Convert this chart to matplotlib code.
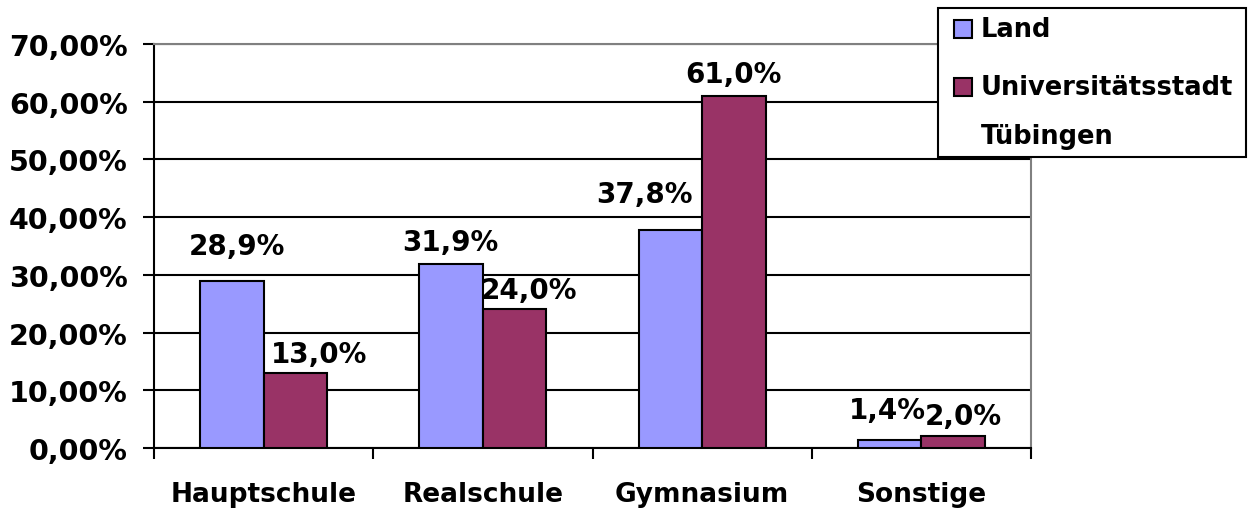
import matplotlib
matplotlib.use("Agg")
from matplotlib import pyplot as plt
from matplotlib.patches import Rectangle
import numpy as np

# Schulart nach der Grundschule: Land vs. Tübingen (Anteile in %)
categories = ["Hauptschule", "Realschule", "Gymnasium", "Sonstige"]
series_names = ["Land", "Universitätsstadt\nTübingen"]
land = [28.9, 31.9, 37.8, 1.4]
tuebingen = [13.0, 24.0, 61.0, 2.0]
y_ticks = [0, 10, 20, 30, 40, 50, 60, 70]

colors = ["#9999FF", "#993366"]

# label offsets (pixels) relative to bar top centre, like the hand-placed Excel labels
land_offsets = [(5, 35), (-1, 22), (-26, 36), (-2, 30)]
tue_offsets = [(24, 19), (14, 19), (0, 22), (10, 20)]

plt.rcParams["font.family"] = "DejaVu Sans"
plt.rcParams["font.weight"] = "bold"

fig = plt.figure(figsize=(12.51, 5.10), dpi=100)
ax = fig.add_axes([154 / 1251, 1 - 449 / 510, 877 / 1251, 404 / 510])

x = np.arange(len(categories))
w = 0.29
b1 = ax.bar(x - w / 2, land, w, color=colors[0], edgecolor="black", linewidth=1.5, zorder=3)
b2 = ax.bar(x + w / 2, tuebingen, w, color=colors[1], edgecolor="black", linewidth=1.5, zorder=3)

def fmt(v):
    return f"{v:.1f}%".replace(".", ",")

for bars, vals, offs in [(b1, land, land_offsets), (b2, tuebingen, tue_offsets)]:
    for bar, v, (dx, dy) in zip(bars, vals, offs):
        ax.annotate(fmt(v), (bar.get_x() + bar.get_width() / 2, v),
                    xytext=(dx * 0.72, dy * 0.72), textcoords="offset points",
                    ha="center", va="center", fontsize=20, fontweight="bold")

ax.set_xlim(-0.5, len(categories) - 0.5)
ax.set_ylim(0, 70)
ax.set_yticks(y_ticks)
ax.set_yticklabels([f"{t:.2f}%".replace(".", ",") for t in y_ticks])
ax.yaxis.grid(True, color="black", linewidth=1.5, zorder=0)
ax.set_axisbelow(True)

ax.set_xticks(x)
ax.set_xticklabels(categories)
ax.set_xticks(np.arange(len(categories) + 1) - 0.5, minor=True)
ax.tick_params(axis="x", which="major", length=0, pad=24, labelsize=19)
ax.tick_params(axis="x", which="minor", length=8, width=1.5, direction="out")
ax.tick_params(axis="y", length=8, width=1.5, pad=11, labelsize=20.5)
for lab in ax.get_xticklabels() + ax.get_yticklabels():
    lab.set_fontweight("bold")

for side in ["left", "bottom"]:
    ax.spines[side].set_color("black")
    ax.spines[side].set_linewidth(1.5)
for side in ["top", "right"]:
    ax.spines[side].set_color("#808080")
    ax.spines[side].set_linewidth(1.5)

# legend box drawn by hand in pixel coordinates
W, H = 1251, 510
fig.patches.append(Rectangle((938 / W, 1 - 158 / H), 308 / W, 149 / H, transform=fig.transFigure,
                             facecolor="white", edgecolor="black", linewidth=1.5, zorder=10))
legend_rows = [30, 88]
for name, col, ytop in zip(series_names, colors, legend_rows):
    fig.patches.append(Rectangle((954 / W, 1 - (ytop + 9) / H), 18 / W, 18 / H,
                                 transform=fig.transFigure, facecolor=col,
                                 edgecolor="black", linewidth=1.5, zorder=11))
    fig.text(981 / W, 1 - (ytop - 13) / H, name, ha="left", va="top",
             fontsize=18.5, fontweight="bold", zorder=12, linespacing=2.15)

fig.savefig("out.png", dpi=100, facecolor="white")
